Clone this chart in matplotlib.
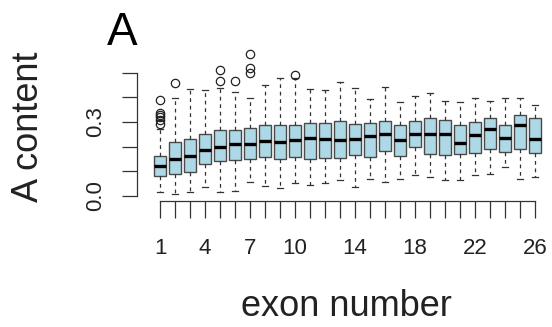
import matplotlib
matplotlib.use('Agg')
import matplotlib.pyplot as plt

plt.rcParams['font.family'] = ['Liberation Sans', 'DejaVu Sans']

# box statistics, one entry per exon
exons = list(range(1, 27))
q1 = [0.082, 0.089, 0.098, 0.129, 0.141, 0.148, 0.152, 0.158, 0.152, 0.158, 0.152, 0.156, 0.156,
      0.168, 0.158, 0.183, 0.161, 0.199, 0.172, 0.165, 0.172, 0.175, 0.192, 0.179, 0.192, 0.175]
med = [0.122, 0.149, 0.162, 0.185, 0.199, 0.212, 0.212, 0.222, 0.219, 0.229, 0.237, 0.233, 0.229,
       0.233, 0.242, 0.253, 0.226, 0.250, 0.250, 0.250, 0.215, 0.246, 0.273, 0.237, 0.286, 0.233]
q3 = [0.161, 0.217, 0.233, 0.250, 0.266, 0.266, 0.277, 0.289, 0.286, 0.286, 0.296, 0.296, 0.306,
      0.290, 0.296, 0.306, 0.286, 0.306, 0.317, 0.309, 0.286, 0.300, 0.317, 0.286, 0.327, 0.317]
lo = [0.017, 0.007, 0.015, 0.037, 0.015, 0.021, 0.058, 0.042, 0.031, 0.051, 0.044, 0.054, 0.064,
      0.037, 0.069, 0.058, 0.069, 0.085, 0.078, 0.064, 0.064, 0.085, 0.089, 0.118, 0.069, 0.078]
hi = [0.270, 0.396, 0.433, 0.430, 0.437, 0.423, 0.396, 0.450, 0.480, 0.478, 0.434, 0.430, 0.464,
      0.438, 0.394, 0.444, 0.380, 0.407, 0.416, 0.384, 0.380, 0.398, 0.384, 0.398, 0.398, 0.371]
outliers = {1: [0.29, 0.31, 0.32, 0.33, 0.335, 0.39], 2: [0.457], 5: [0.468, 0.511],
            6: [0.468], 7: [0.498, 0.518, 0.576], 10: [0.49]}
xlabels = {1: '1', 4: '4', 7: '7', 10: '10', 14: '14', 18: '18', 22: '22', 26: '26'}

stats = []
for i, e in enumerate(exons):
    stats.append(dict(q1=q1[i], med=med[i], q3=q3[i], whislo=lo[i], whishi=hi[i],
                      fliers=outliers.get(e, [])))

fig = plt.figure(figsize=(5.52, 3.27), dpi=100)
ax = fig.add_axes([152.5 / 552, (327 - 198.96) / 327, 390 / 552, 150.9 / 327])

ax.bxp(stats, positions=exons, widths=0.8, capwidths=0.4, patch_artist=True,
       boxprops=dict(facecolor='#add8e6', edgecolor='#4a4a4a', linewidth=1.0),
       medianprops=dict(color='black', linewidth=2.4, solid_capstyle='butt'),
       whiskerprops=dict(color='#333333', linewidth=0.9, linestyle=(0, (3, 3))),
       capprops=dict(color='#333333', linewidth=0.9),
       flierprops=dict(marker='o', markerfacecolor='none', markeredgecolor='#222222',
                       markersize=6, markeredgewidth=0.9))

ax.set_xlim(0.5, 26.5)
ax.set_ylim(-0.012, 0.6)

for s in ['top', 'right']:
    ax.spines[s].set_visible(False)
ax.spines['left'].set_bounds(0, 0.5)
ax.spines['left'].set_position(('outward', 11.4))
ax.spines['bottom'].set_bounds(1, 26)
ax.spines['bottom'].set_position(('outward', 1.3))
for s in ['left', 'bottom']:
    ax.spines[s].set_color('#333333')
    ax.spines[s].set_linewidth(0.9)

ax.set_yticks([0, 0.1, 0.2, 0.3, 0.4, 0.5])
ax.set_yticklabels(['0.0', '', '', '0.3', '', ''], rotation=90, va='center')
ax.set_xticks(exons)
ax.set_xticklabels([xlabels.get(e, '') for e in exons])
ax.tick_params(axis='y', length=11, width=0.9, color='#333333', labelsize=16, pad=11,
               labelcolor='#222222')
ax.tick_params(axis='x', length=12, width=0.9, color='#333333', labelsize=16, pad=15,
               labelcolor='#222222')

fig.text(122 / 552, 1 - 45 / 327, 'A', ha='center', va='baseline', fontsize=33)
fig.text(28 / 552, 1 - 127 / 327, 'A content', rotation=90, ha='center', va='center',
         fontsize=26, color='#222222')
fig.text(346.5 / 552, 1 - 316 / 327, 'exon number', ha='center', va='baseline',
         fontsize=26, color='#222222')

fig.savefig('out.png', dpi=100)
